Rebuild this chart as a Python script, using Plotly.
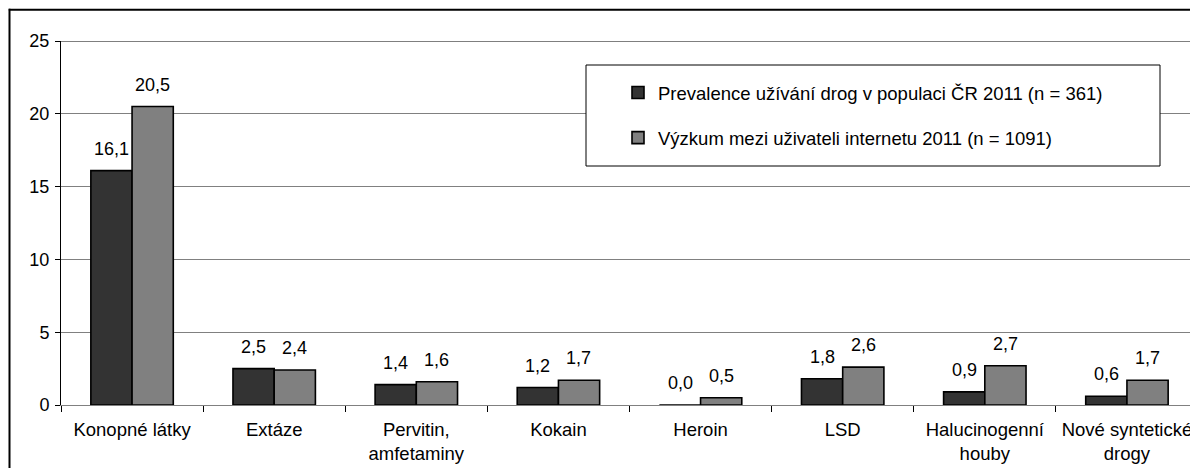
import plotly.graph_objects as go

categories = ["Konopné látky", "Extáze", "Pervitin,<br>amfetaminy", "Kokain", "Heroin",
              "LSD", "Halucinogenní<br>houby", "Nové syntetické<br>drogy"]
series_names = ["Prevalence užívání drog v populaci ČR 2011 (n = 361)",
                "Výzkum mezi uživateli internetu 2011 (n = 1091)"]
prevalence_2011 = [16.1, 2.5, 1.4, 1.2, 0.0, 1.8, 0.9, 0.6]
internet_2011 = [20.5, 2.4, 1.6, 1.7, 0.5, 2.6, 2.7, 1.7]
y_ticks = [0, 5, 10, 15, 20, 25]

colors = ["#333333", "#808080"]
FONT = "Liberation Sans, Arial, sans-serif"

# page body has an 8px margin, so the figure is drawn from (8, 8)
W, H = 1190, 460
L, R, T, B = 53, 0, 33, 63
pw, ph = W - L - R, H - T - B

def px_x(x):
    return (x - L) / pw

def px_y(y):
    return 1 - (y - T) / ph

fig = go.Figure()
for i, (name, vals) in enumerate(zip(series_names, [prevalence_2011, internet_2011])):
    fig.add_trace(go.Bar(
        x=categories, y=vals, name=name,
        marker=dict(color=colors[i], line=dict(color="black", width=1.6)),
        legendgroup=f"g{i}",
    ))

annotations = []
for j, vals in enumerate([prevalence_2011, internet_2011]):
    for c, v in zip(categories, vals):
        annotations.append(dict(
            x=c, y=v, xref="x", yref="y", text=f"{v:.1f}".replace(".", ","),
            showarrow=False, xshift=(-20.5 if j == 0 else 20.5), yshift=22,
            yanchor="middle", font=dict(family=FONT, size=18, color="black"),
        ))

shapes = [
    # outer chart border: left and top edges
    dict(type="line", xref="paper", yref="paper", x0=px_x(1.5), x1=px_x(1.5), y0=-0.3, y1=px_y(0.8),
         line=dict(color="#000000", width=2), layer="above"),
    dict(type="line", xref="paper", yref="paper", x0=px_x(0.8), x1=1.0, y0=px_y(1.8), y1=px_y(1.8),
         line=dict(color="#000000", width=2), layer="above"),
    # top border of plot area
    dict(type="line", xref="paper", yref="y", x0=0, x1=1, y0=25, y1=25,
         line=dict(color="black", width=1), layer="below"),
    # legend box
    dict(type="rect", xref="paper", yref="paper", x0=px_x(578), x1=px_x(1152), y0=px_y(158), y1=px_y(57),
         line=dict(color="black", width=1), fillcolor="white", layer="above"),
]

fig.update_layout(
    width=W, height=H,
    margin=dict(l=L, r=R, t=T, b=B, pad=0),
    paper_bgcolor="white", plot_bgcolor="white",
    font=dict(family=FONT, size=18, color="black"),
    barmode="group", bargap=0.42, bargroupgap=0,
    separators=",.",
    showlegend=True,
    legend=dict(
        x=px_x(610), y=px_y(66), xanchor="left", yanchor="top",
        bgcolor="rgba(0,0,0,0)", borderwidth=0,
        font=dict(family=FONT, size=18.5, color="black"),
        traceorder="grouped", tracegroupgap=18,
    ),
    annotations=annotations,
    shapes=shapes,
)
fig.update_xaxes(
    type="category", showgrid=False, showline=True, linecolor="#808080", linewidth=1,
    ticks="outside", tickson="boundaries", ticklen=6, tickcolor="black",
    ticklabelstandoff=8,
    tickfont=dict(family=FONT, size=18.5, color="black"),
)
fig.update_yaxes(
    range=[0, 25], tickvals=y_ticks, ticktext=[str(t) for t in y_ticks],
    showgrid=True, gridcolor="#808080", gridwidth=1,
    showline=True, linecolor="black", linewidth=1,
    ticks="outside", ticklen=5, tickcolor="black", ticklabelstandoff=2,
    tickfont=dict(family=FONT, size=18, color="black"),
    zeroline=False,
)

fig.write_html("out.html")
